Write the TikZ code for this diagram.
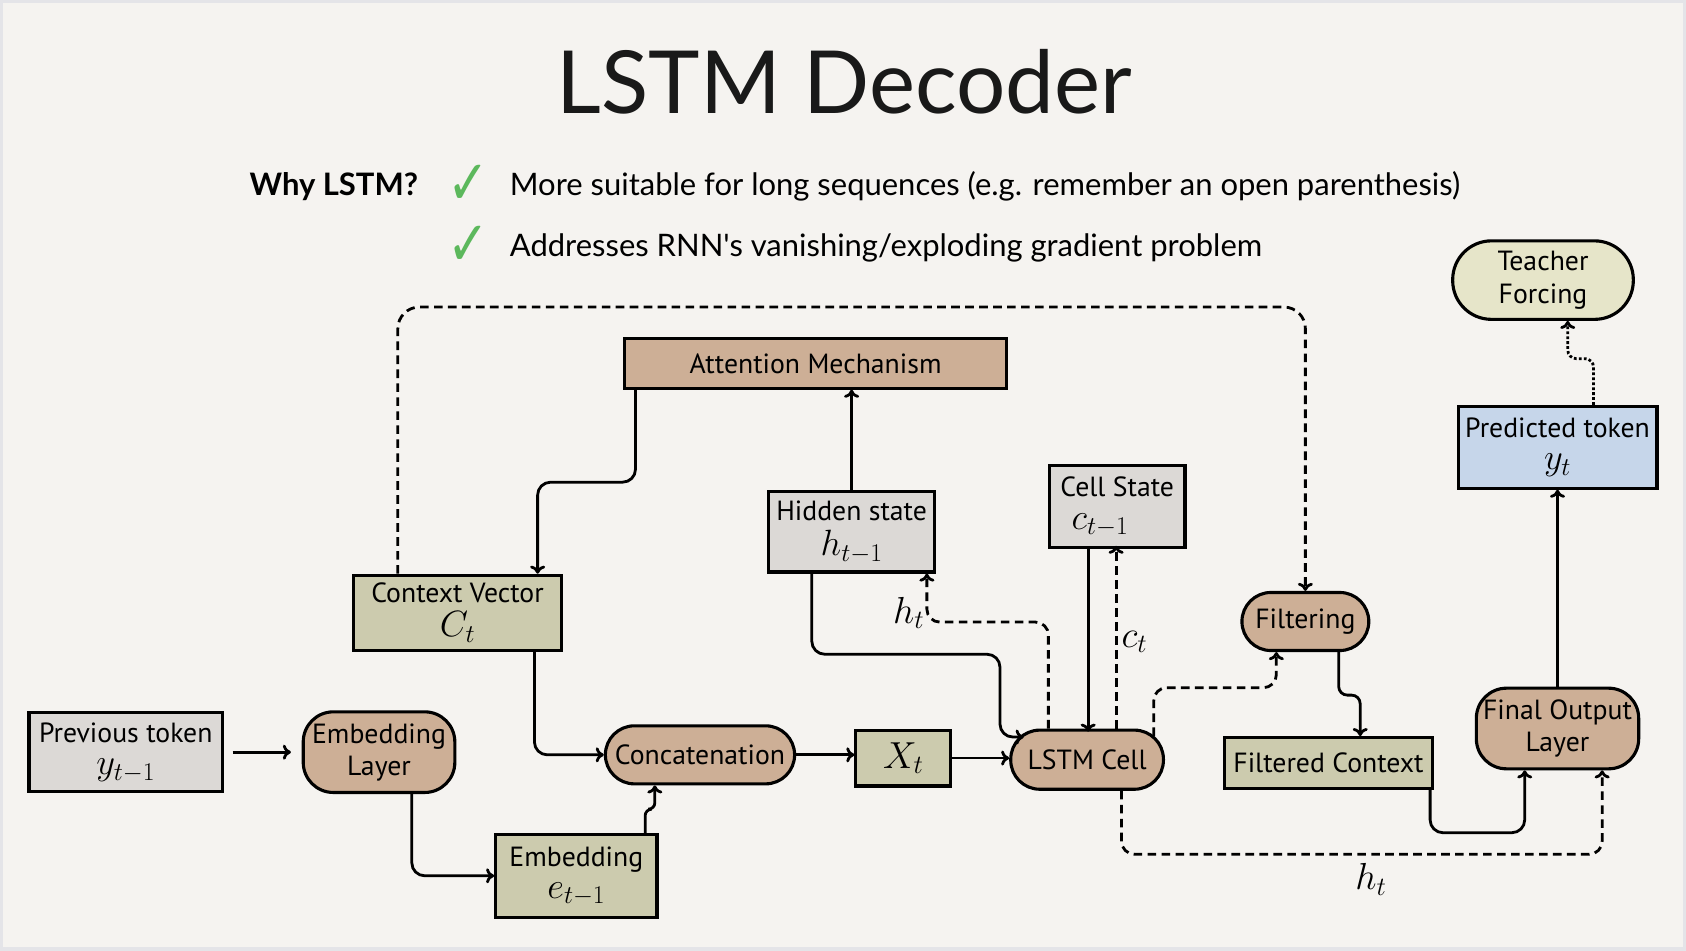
\RequirePackage{fix-cm}
\documentclass[tikz,border=0pt]{standalone}
\usepackage{fontspec}
\usepackage{graphicx}
\usetikzlibrary{arrows.meta}
\newfontfamily\nodefont{PT Sans}
\newfontfamily\titlefont{Lato}
\newfontfamily\bulfont{Lato}
\newfontfamily\chkfont{DejaVu Sans}
\newcommand{\nm}[1]{{\normalfont\fontsize{34}{30}\selectfont$#1$}}
\newcommand{\twol}[2]{\begin{tabular}{@{}c@{}}#1\\#2\end{tabular}}
\definecolor{bgc}{HTML}{F5F3F0}
\definecolor{tanc}{HTML}{CDAF96}
\definecolor{olivec}{HTML}{CCCBAE}
\definecolor{greyc}{HTML}{DCD9D6}
\definecolor{bluec}{HTML}{C6D6EA}
\definecolor{teachc}{HTML}{E6E5C9}
\definecolor{chkc}{HTML}{5CB85C}
\definecolor{framec}{HTML}{E4E4E8}
\begin{document}
\begin{tikzpicture}[x=1pt,y=-1pt,
  box/.style={draw=black, line width=2.9pt, inner sep=0pt, align=center,
    font=\nodefont\fontsize{25.8}{30}\selectfont},
  tanbox/.style={box, fill=tanc},
  olivebox/.style={box, fill=olivec},
  greybox/.style={box, fill=greyc},
  conn/.style={line width=2.6pt, rounded corners=12pt, -{To[length=7.5pt,width=14pt]}},
  dconn/.style={conn, dash pattern=on 8pt off 5pt},
  dotconn/.style={conn, rounded corners=8pt, dotted},
  lab/.style={font=\fontsize{35}{35}\selectfont, inner sep=0pt},
  chk/.style={anchor=base west, inner sep=0pt, text=chkc, font=\chkfont\fontsize{58}{58}\selectfont}
]
\useasboundingbox (0,0) rectangle (1568,884);
\fill[bgc] (0,0) rectangle (1568,884);
\draw[framec, line width=3pt] (1.5,1.5) rectangle (1566.5,882.5);

% title and bullets
\node[anchor=base, inner sep=0pt, text=black!90, font=\titlefont\fontsize{81}{81}\selectfont] (title) at (785,106) {LSTM Decoder};
\node[anchor=base west, inner sep=0pt, font=\bulfont\bfseries\fontsize{28.8}{28.8}\selectfont] (why) at (232,181.5) {Why LSTM?};
\node[chk] (chk1) at (416,190) {\scalebox{0.8}[1]{✓}};
\node[chk] (chk2) at (416,247) {\scalebox{0.8}[1]{✓}};
\node[anchor=base west, inner sep=0pt, font=\bulfont\fontsize{28.8}{28.8}\selectfont] (b1) at (474,181.5) {More suitable for long sequences (e.g. remember an open parenthesis)};
\node[anchor=base west, inner sep=0pt, font=\bulfont\fontsize{28.8}{28.8}\selectfont] (b2) at (474,238.7) {Addresses RNN's vanishing/exploding gradient problem};

% nodes
\node[box, fill=teachc, rounded corners=36pt, minimum width=168pt, minimum height=73pt] (tf) at (1435,260.5) {Teacher\\Forcing};
\node[tanbox, minimum width=355pt, minimum height=46pt] (att) at (758.5,338) {Attention Mechanism};
\node[greybox, minimum width=154pt, minimum height=75pt] (hid) at (792,494.5) {\twol{Hidden state}{\nm{h_{t-1}}}};
\node[greybox, minimum width=126pt, minimum height=76pt] (cell) at (1039,471) {\twol{Cell State}{\mbox{\nm{c_{t-1}}\hspace{32pt}}}};
\node[box, fill=bluec, minimum width=185pt, minimum height=76pt] (pred) at (1448.5,416) {\twol{Predicted token}{\nm{y_t}}};
\node[olivebox, minimum width=193pt, minimum height=70pt] (ctx) at (425.5,570) {\twol{Context Vector}{\nm{C_t}}};
\node[tanbox, rounded corners=27pt, minimum width=118pt, minimum height=54pt] (filt) at (1214,578) {Filtering};
\node[greybox, minimum width=180pt, minimum height=73pt] (prev) at (117,699.5) {\twol{Previous token}{\nm{y_{t-1}}}};
\node[tanbox, rounded corners=28pt, minimum width=141pt, minimum height=75pt] (embl) at (352.5,699.5) {Embedding\\Layer};
\node[tanbox, rounded corners=27pt, minimum width=176pt, minimum height=54pt] (concat) at (651,702) {Concatenation};
\node[olivebox, minimum width=88pt, minimum height=52pt, font=\fontsize{35}{35}\selectfont] (xt) at (840,705) {$X_t$};
\node[tanbox, rounded corners=27pt, minimum width=142pt, minimum height=55pt] (lstm) at (1011,706.5) {LSTM Cell};
\node[olivebox, minimum width=193pt, minimum height=47pt] (fctx) at (1235.5,709.5) {Filtered Context};
\node[tanbox, rounded corners=28pt, minimum width=151pt, minimum height=75pt] (fout) at (1448.5,677.5) {Final Output\\Layer};
\node[olivebox, minimum width=150pt, minimum height=77pt] (emb) at (536,814.5) {\twol{Embedding}{\nm{e_{t-1}}}};

% labels
\node[lab] (lh1) at (845,570) {$h_t$};
\node[lab] (lc) at (1055,597) {$c_t$};
\node[lab] (lh2) at (1275,818) {$h_t$};

% connectors
\draw[conn, shorten <=8pt, shorten >=10pt] (prev) -- (embl);
\draw[conn] ([xshift=30.5pt]embl.south) |- (emb.west);
\draw[conn, rounded corners=6pt] ([xshift=64pt]emb.north) -- ++(0,-22) -| ([xshift=-42pt]concat.south);
\draw[conn] ([xshift=71.5pt]ctx.south) |- (concat.west);
\draw[conn] ([xshift=-167.5pt]att.south) -- ++(0,86) -| ([xshift=74.5pt]ctx.north);
\draw[conn] (concat.east) -- (concat.east -| xt.west);
\draw[conn] (xt.east) -- (xt.east -| lstm.west);
\draw[conn] (hid.north) -- (hid.north |- att.south);
\draw[conn] ([xshift=-37pt]hid.south) -- ++(0,75) -- ++(175,0) -- ++(0,77) -- ++(22,0);
\draw[dconn] ([xshift=-36pt]lstm.north) -- ++(0,-99) -| ([xshift=70pt]hid.south);
\draw[conn] ([xshift=-27pt]cell.south) -- ++(0,170);
\draw[dconn] ([xshift=27pt]lstm.north) -- ++(0,-170);
\draw[dconn] ([xshift=62pt,yshift=-7pt]lstm.north) -- ++(0,-45) -| ([xshift=-27pt]filt.south);
\draw[conn, rounded corners=8pt] ([xshift=31pt]filt.south) -- ++(0,40) -| ([xshift=29.5pt]fctx.north);
\draw[conn] ([xshift=94.5pt]fctx.south) -- ++(0,40) -| ([xshift=-30.5pt]fout.south);
\draw[dconn] ([xshift=32pt]lstm.south) -- ++(0,59) -| ([xshift=41.5pt]fout.south);
\draw[conn] (fout.north) -- (pred.south);
\draw[dotconn] ([xshift=33.5pt]pred.north) -- ++(0,-43) -| ([xshift=23pt]tf.south);
\draw[dconn, rounded corners=20pt] ([xshift=-55.5pt]ctx.north) -- ++(0,-248) -| (filt.north);
\end{tikzpicture}
\end{document}
